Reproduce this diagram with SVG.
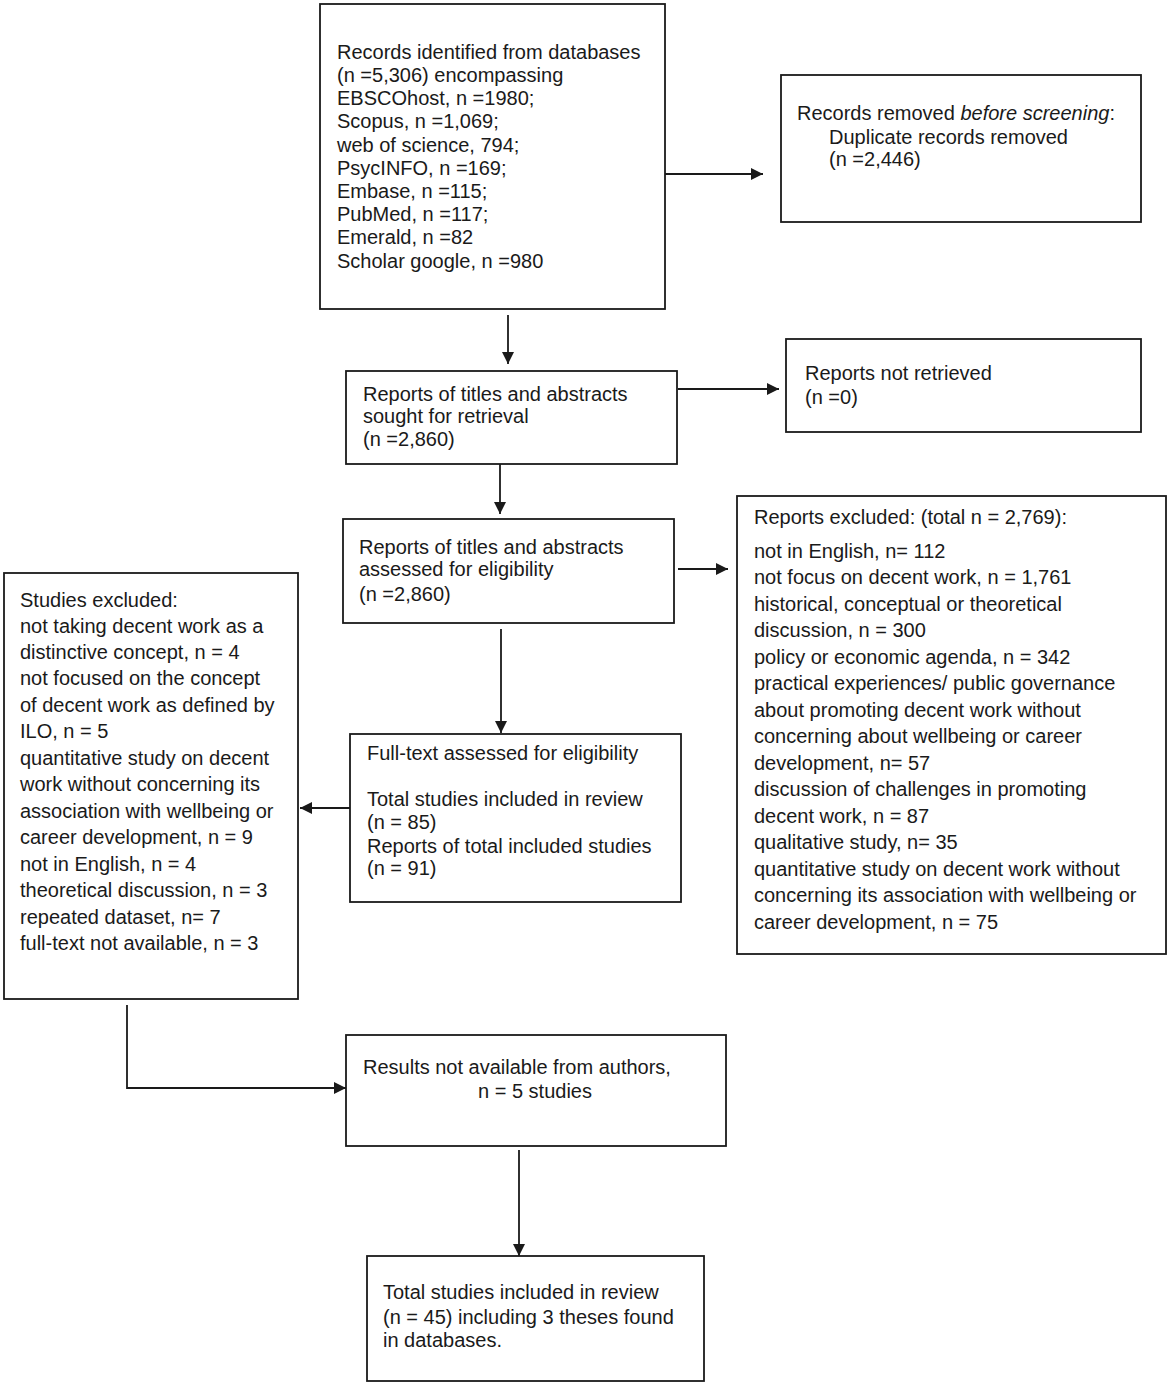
<svg xmlns="http://www.w3.org/2000/svg" width="1170" height="1385" viewBox="0 0 1170 1385">
<style>
.box{fill:#fff;stroke:#1a1a1a;stroke-width:1.8}
.t{font-family:"Liberation Sans",Arial,sans-serif;font-size:20px;fill:#1a1a1a}
.c{fill:none;stroke:#1a1a1a;stroke-width:1.8}
</style>
<defs>
<marker id="ah" viewBox="0 0 10 10" refX="10" refY="5" markerWidth="13" markerHeight="12" markerUnits="userSpaceOnUse" orient="auto">
<path d="M0,0 L10,5 L0,10 z" fill="#1a1a1a"/>
</marker>
</defs>
<rect width="1170" height="1385" fill="#fff"/>
<g id="connectors">
<line class="c" x1="665" y1="174" x2="763" y2="174" marker-end="url(#ah)"/>
<line class="c" x1="508" y1="315" x2="508" y2="364" marker-end="url(#ah)"/>
<line class="c" x1="678" y1="389" x2="779" y2="389" marker-end="url(#ah)"/>
<line class="c" x1="500" y1="464" x2="500" y2="514" marker-end="url(#ah)"/>
<line class="c" x1="678" y1="569" x2="728" y2="569" marker-end="url(#ah)"/>
<line class="c" x1="501" y1="629" x2="501" y2="733" marker-end="url(#ah)"/>
<line class="c" x1="350" y1="808" x2="300" y2="808" stroke="#555" marker-end="url(#ah)"/>
<polyline class="c" points="127,1005 127,1088 346,1088" marker-end="url(#ah)"/>
<line class="c" x1="519" y1="1150" x2="519" y2="1256" marker-end="url(#ah)"/>
</g>
<g id="records-identified">
<rect class="box" x="320" y="4" width="345" height="305"/>
<text class="t" x="337" y="59">Records identified from databases</text>
<text class="t" x="337" y="82">(n =5,306) encompassing</text>
<text class="t" x="337" y="105">EBSCOhost, n =1980;</text>
<text class="t" x="337" y="128">Scopus, n =1,069;</text>
<text class="t" x="337" y="152">web of science, 794;</text>
<text class="t" x="337" y="175">PsycINFO, n =169;</text>
<text class="t" x="337" y="198">Embase, n =115;</text>
<text class="t" x="337" y="221">PubMed, n =117;</text>
<text class="t" x="337" y="244">Emerald, n =82</text>
<text class="t" x="337" y="268">Scholar google, n =980</text>
</g>
<g id="records-removed">
<rect class="box" x="781" y="75" width="360" height="147"/>
<text class="t" x="797" y="120">Records removed <tspan font-style="italic">before screening</tspan>:</text>
<text class="t" x="829" y="144">Duplicate records removed</text>
<text class="t" x="829" y="166">(n =2,446)</text>
</g>
<g id="sought-retrieval">
<rect class="box" x="346" y="371" width="331" height="93"/>
<text class="t" x="363" y="401">Reports of titles and abstracts</text>
<text class="t" x="363" y="423">sought for retrieval</text>
<text class="t" x="363" y="446">(n =2,860)</text>
</g>
<g id="not-retrieved">
<rect class="box" x="786" y="339" width="355" height="93"/>
<text class="t" x="805" y="380">Reports not retrieved</text>
<text class="t" x="805" y="404">(n =0)</text>
</g>
<g id="assessed-eligibility">
<rect class="box" x="343" y="519" width="331" height="104"/>
<text class="t" x="359" y="554">Reports of titles and abstracts</text>
<text class="t" x="359" y="576">assessed for eligibility</text>
<text class="t" x="359" y="601">(n =2,860)</text>
</g>
<g id="reports-excluded">
<rect class="box" x="737" y="496" width="429" height="458"/>
<text class="t" x="754" y="524">Reports excluded: (total n = 2,769):</text>
<text class="t" x="754" y="558">not in English, n= 112</text>
<text class="t" x="754" y="584">not focus on decent work, n = 1,761</text>
<text class="t" x="754" y="611">historical, conceptual or theoretical</text>
<text class="t" x="754" y="637">discussion, n = 300</text>
<text class="t" x="754" y="664">policy or economic agenda, n = 342</text>
<text class="t" x="754" y="690">practical experiences/ public governance</text>
<text class="t" x="754" y="717">about promoting decent work without</text>
<text class="t" x="754" y="743">concerning about wellbeing or career</text>
<text class="t" x="754" y="770">development, n= 57</text>
<text class="t" x="754" y="796">discussion of challenges in promoting</text>
<text class="t" x="754" y="823">decent work, n = 87</text>
<text class="t" x="754" y="849">qualitative study, n= 35</text>
<text class="t" x="754" y="876">quantitative study on decent work without</text>
<text class="t" x="754" y="902">concerning its association with wellbeing or</text>
<text class="t" x="754" y="929">career development, n = 75</text>
</g>
<g id="studies-excluded">
<rect class="box" x="4" y="573" width="294" height="426"/>
<text class="t" x="20" y="607">Studies excluded:</text>
<text class="t" x="20" y="633">not taking decent work as a</text>
<text class="t" x="20" y="659">distinctive concept, n = 4</text>
<text class="t" x="20" y="685">not focused on the concept</text>
<text class="t" x="20" y="712">of decent work as defined by</text>
<text class="t" x="20" y="738">ILO, n = 5</text>
<text class="t" x="20" y="765">quantitative study on decent</text>
<text class="t" x="20" y="791">work without concerning its</text>
<text class="t" x="20" y="818">association with wellbeing or</text>
<text class="t" x="20" y="844">career development, n = 9</text>
<text class="t" x="20" y="871">not in English, n = 4</text>
<text class="t" x="20" y="897">theoretical discussion, n = 3</text>
<text class="t" x="20" y="924">repeated dataset, n= 7</text>
<text class="t" x="20" y="950">full-text not available, n = 3</text>
</g>
<g id="full-text">
<rect class="box" x="350" y="734" width="331" height="168"/>
<text class="t" x="367" y="760">Full-text assessed for eligibility</text>
<text class="t" x="367" y="806">Total studies included in review</text>
<text class="t" x="367" y="829">(n = 85)</text>
<text class="t" x="367" y="853">Reports of total included studies</text>
<text class="t" x="367" y="875">(n = 91)</text>
</g>
<g id="results-not-available">
<rect class="box" x="346" y="1035" width="380" height="111"/>
<text class="t" x="363" y="1074">Results not available from authors,</text>
<text class="t" x="478" y="1098">n = 5 studies</text>
</g>
<g id="total-included">
<rect class="box" x="367" y="1256" width="337" height="125"/>
<text class="t" x="383" y="1299">Total studies included in review</text>
<text class="t" x="383" y="1324">(n = 45) including 3 theses found</text>
<text class="t" x="383" y="1347">in databases.</text>
</g>
</svg>
